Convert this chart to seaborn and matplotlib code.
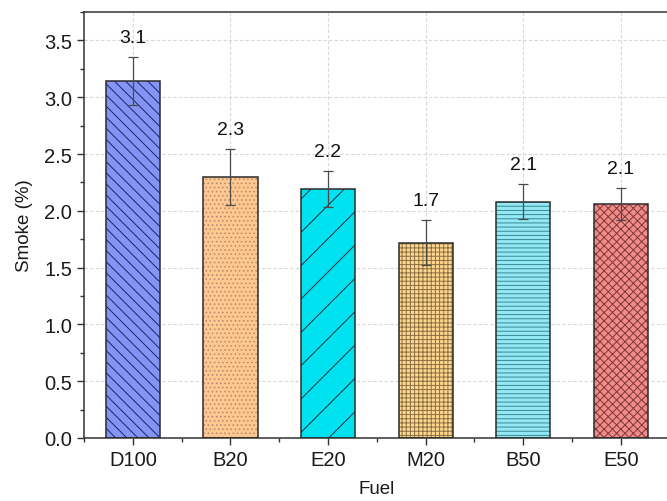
import matplotlib
matplotlib.use("Agg")
import matplotlib.pyplot as plt
from matplotlib.patches import Rectangle
from matplotlib.ticker import MultipleLocator, FixedLocator, FormatStrFormatter
import seaborn as sns
import pandas as pd

# Fuel blends and measured smoke opacity
fuels = ["D100", "B20", "E20", "M20", "B50", "E50"]
smoke = [3.14, 2.30, 2.19, 1.72, 2.08, 2.06]
smoke_err = [0.21, 0.245, 0.16, 0.20, 0.155, 0.14]

bar_colors = ["#8494f4", "#ffc890", "#00e2f0", "#ffd690", "#92e8f4", "#f28a88"]
hatch_colors = ["#1c2468", "#b89070", "#10303a", "#8a7040", "#3a8890", "#7a3a3a"]
hatches = ["\\\\\\", "....", "/", "++++", "----", "xxxx"]

sns.set_theme(style="white")
plt.rcParams["font.family"] = ["Liberation Sans", "DejaVu Sans"]
plt.rcParams["hatch.linewidth"] = 0.7

df = pd.DataFrame({"Fuel": fuels, "Smoke": smoke})

fig = plt.figure(figsize=(6.67, 5.02), dpi=100)
ax = fig.add_axes([0.126, 0.1255, 0.878, 0.8485])

sns.barplot(data=df, x="Fuel", y="Smoke", hue="Fuel", palette=bar_colors,
            saturation=1, width=0.555, errorbar=None, legend=False, ax=ax, zorder=2)

# hatch fills plus a separate dark outline for each bar
for patch, h, hc in zip(ax.patches[:len(fuels)], hatches, hatch_colors):
    patch.set_hatch(h)
    patch.set_edgecolor(hc)
    patch.set_linewidth(0)
    ax.add_patch(Rectangle(patch.get_xy(), patch.get_width(), patch.get_height(),
                           fill=False, edgecolor="#2b2b2b", linewidth=1.1, zorder=3))

xs = list(range(len(fuels)))
ax.errorbar(xs, smoke, yerr=smoke_err, fmt="none", ecolor="#4a4a4a",
            elinewidth=0.9, capsize=3.5, capthick=0.9, zorder=4)

for x, v, e in zip(xs, smoke, smoke_err):
    ax.annotate(f"{v:.1f}", xy=(x, v + e), xytext=(0, 8), textcoords="offset points",
                ha="center", va="bottom", fontsize=14, color="#111111")

ax.set_xlim(-0.5, 5.5)
ax.set_ylim(0, 3.75)
ax.yaxis.set_major_locator(MultipleLocator(0.5))
ax.yaxis.set_minor_locator(MultipleLocator(0.25))
ax.xaxis.set_minor_locator(FixedLocator([i + 0.5 for i in range(-1, len(fuels))]))
ax.yaxis.set_major_formatter(FormatStrFormatter("%.1f"))

ax.grid(True, which="major", color="#d8d8d8", linestyle=(0, (3, 2)), linewidth=0.8, zorder=0)
ax.set_axisbelow(True)

for side in ["left", "bottom", "top"]:
    ax.spines[side].set_color("#333333")
    ax.spines[side].set_linewidth(1.1)
ax.spines["right"].set_visible(False)

ax.tick_params(axis="both", which="major", direction="out", length=5, width=1,
               color="#333333", labelsize=14.5, labelcolor="#1a1a1a", bottom=True, left=True)
ax.tick_params(axis="both", which="minor", direction="out", length=3, width=1,
               color="#333333", bottom=True, left=True)

ax.set_xlabel("Fuel", fontsize=13.5, color="#1a1a1a", labelpad=8)
ax.set_ylabel("Smoke (%)", fontsize=13.5, color="#1a1a1a", labelpad=8)

fig.savefig("out.png", dpi=100)
